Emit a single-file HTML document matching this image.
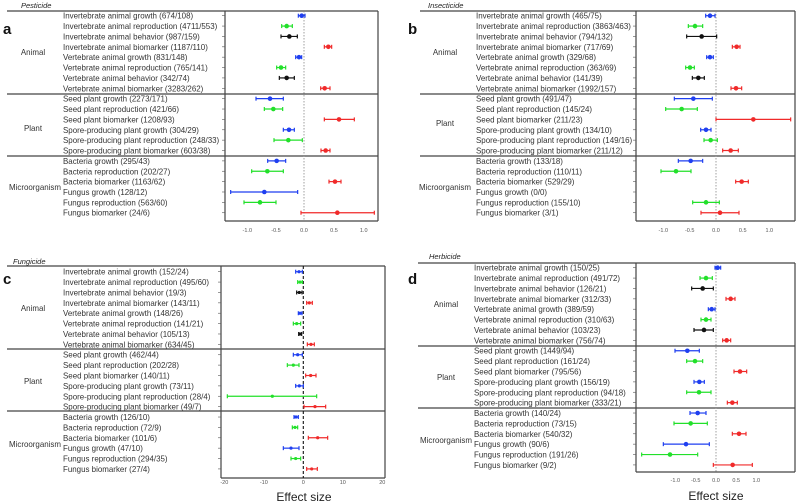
<!DOCTYPE html>
<html><head><meta charset="utf-8"><style>
html,body{margin:0;padding:0;background:#fff;}
svg{display:block;font-family:"Liberation Sans",sans-serif;}
.lab{font-size:7.95px;fill:#333;}
.grp{font-size:7.95px;fill:#333;text-anchor:middle;}
.tk{font-size:5.5px;fill:#555;text-anchor:middle;}
.ttl{font-size:7.5px;font-style:italic;fill:#222;}
.pl{font-size:15px;font-weight:bold;fill:#111;}
.es{font-size:12px;fill:#222;text-anchor:middle;}
</style></head><body>
<svg id="s" width="799" height="503" viewBox="0 0 799 503" xmlns="http://www.w3.org/2000/svg">
<rect width="799" height="503" fill="#fff"/>
<text class="ttl" x="21" y="8">Pesticide</text>
<text class="ttl" x="428" y="8">Insecticide</text>
<text class="ttl" x="13" y="264">Fungicide</text>
<text class="ttl" x="429" y="259">Herbicide</text>
<text class="pl" x="3" y="34">a</text>
<text class="pl" x="408" y="34">b</text>
<text class="pl" x="3" y="284">c</text>
<text class="pl" x="408" y="284">d</text>

<g stroke="#444" stroke-width="1.2" fill="none">
<line x1="7" y1="11" x2="378" y2="11"/><line x1="7" y1="94" x2="378" y2="94"/><line x1="7" y1="156" x2="378" y2="156"/>
<line x1="225" y1="11" x2="225" y2="221"/><line x1="378" y1="11" x2="378" y2="221"/><line x1="225" y1="221" x2="378" y2="221"/>
<line x1="420" y1="11" x2="795" y2="11"/><line x1="420" y1="94" x2="795" y2="94"/><line x1="420" y1="156" x2="795" y2="156"/>
<line x1="636" y1="11" x2="636" y2="221"/><line x1="795" y1="11" x2="795" y2="221"/><line x1="636" y1="221" x2="795" y2="221"/>
<line x1="7" y1="266" x2="385" y2="266"/><line x1="7" y1="349" x2="385" y2="349"/><line x1="7" y1="411" x2="385" y2="411"/>
<line x1="221" y1="266" x2="221" y2="478"/><line x1="385" y1="266" x2="385" y2="478"/><line x1="221" y1="478" x2="385" y2="478"/>
<line x1="418" y1="263" x2="795" y2="263"/><line x1="418" y1="346" x2="795" y2="346"/><line x1="418" y1="408" x2="795" y2="408"/>
<line x1="636" y1="263" x2="636" y2="472"/><line x1="795" y1="263" x2="795" y2="472"/><line x1="636" y1="472" x2="795" y2="472"/>
</g>
<g stroke="#888" stroke-width="0.8" stroke-dasharray="1.5,1.5">
<line x1="304" y1="11" x2="304" y2="221"/>
<line x1="716" y1="11" x2="716" y2="221"/>
<line x1="716" y1="263" x2="716" y2="472"/>
</g>
<line x1="303.3" y1="266" x2="303.3" y2="478" stroke="#111" stroke-width="1.1" stroke-dasharray="3,2"/>

<g class="tk">
<text x="247.3" y="232">-1.0</text><text x="276" y="232">-0.5</text><text x="304" y="232">0.0</text><text x="334" y="232">0.5</text><text x="363.7" y="232">1.0</text>
<text x="663.3" y="232">-1.0</text><text x="689.7" y="232">-0.5</text><text x="716" y="232">0.0</text><text x="742.7" y="232">0.5</text><text x="769.3" y="232">1.0</text>
<text x="224.3" y="484">-20</text><text x="263.8" y="484">-10</text><text x="303.3" y="484">0</text><text x="342.8" y="484">10</text><text x="382.3" y="484">20</text>
<text x="675.3" y="482">-1.0</text><text x="695.7" y="482">-0.5</text><text x="716" y="482">0.0</text><text x="736.2" y="482">0.5</text><text x="756.3" y="482">1.0</text>
</g>
<text class="es" x="304" y="501">Effect size</text>
<text class="es" x="716" y="500">Effect size</text>

<g class="grp">
<text x="33" y="55">Animal</text><text x="33" y="131">Plant</text><text x="35" y="190">Microorganism</text>
<text x="445" y="55">Animal</text><text x="445" y="126">Plant</text><text x="445" y="190">Microorganism</text>
<text x="33" y="311">Animal</text><text x="33" y="384">Plant</text><text x="35" y="447">Microorganism</text>
<text x="446" y="307">Animal</text><text x="446" y="380">Plant</text><text x="446" y="443">Microorganism</text>
</g>

<text class="lab" x="63" y="18.7">
<tspan x="63" dy="0">Invertebrate animal growth (674/108)</tspan>
<tspan x="63" dy="10.37">Invertebrate animal reproduction (4711/553)</tspan>
<tspan x="63" dy="10.37">Invertebrate animal behavior (987/159)</tspan>
<tspan x="63" dy="10.37">Invertebrate animal biomarker (1187/110)</tspan>
<tspan x="63" dy="10.37">Vertebrate animal growth (831/148)</tspan>
<tspan x="63" dy="10.37">Vertebrate animal reproduction (765/141)</tspan>
<tspan x="63" dy="10.37">Vertebrate animal behavior (342/74)</tspan>
<tspan x="63" dy="10.37">Vertebrate animal biomarker (3283/262)</tspan>
<tspan x="63" dy="10.37">Seed plant growth (2273/171)</tspan>
<tspan x="63" dy="10.37">Seed plant reproduction (421/66)</tspan>
<tspan x="63" dy="10.37">Seed plant biomarker (1208/93)</tspan>
<tspan x="63" dy="10.37">Spore-producing plant growth (304/29)</tspan>
<tspan x="63" dy="10.37">Spore-producing plant reproduction (248/33)</tspan>
<tspan x="63" dy="10.37">Spore-producing plant biomarker (603/38)</tspan>
<tspan x="63" dy="10.37">Bacteria growth (295/43)</tspan>
<tspan x="63" dy="10.37">Bacteria reproduction (202/27)</tspan>
<tspan x="63" dy="10.37">Bacteria biomarker (1163/62)</tspan>
<tspan x="63" dy="10.37">Fungus growth (128/12)</tspan>
<tspan x="63" dy="10.37">Fungus reproduction (563/60)</tspan>
<tspan x="63" dy="10.37">Fungus biomarker (24/6)</tspan>
</text>
<text class="lab" x="476" y="18.7">
<tspan x="476" dy="0">Invertebrate animal growth (465/75)</tspan>
<tspan x="476" dy="10.37">Invertebrate animal reproduction (3863/463)</tspan>
<tspan x="476" dy="10.37">Invertebrate animal behavior (794/132)</tspan>
<tspan x="476" dy="10.37">Invertebrate animal biomarker (717/69)</tspan>
<tspan x="476" dy="10.37">Vertebrate animal growth (329/68)</tspan>
<tspan x="476" dy="10.37">Vertebrate animal reproduction (363/69)</tspan>
<tspan x="476" dy="10.37">Vertebrate animal behavior (141/39)</tspan>
<tspan x="476" dy="10.37">Vertebrate animal biomarker (1992/157)</tspan>
<tspan x="476" dy="10.37">Seed plant growth (491/47)</tspan>
<tspan x="476" dy="10.37">Seed plant reproduction (145/24)</tspan>
<tspan x="476" dy="10.37">Seed plant biomarker (211/23)</tspan>
<tspan x="476" dy="10.37">Spore-producing plant growth (134/10)</tspan>
<tspan x="476" dy="10.37">Spore-producing plant reproduction (149/16)</tspan>
<tspan x="476" dy="10.37">Spore-producing plant biomarker (211/12)</tspan>
<tspan x="476" dy="10.37">Bacteria growth (133/18)</tspan>
<tspan x="476" dy="10.37">Bacteria reproduction (110/11)</tspan>
<tspan x="476" dy="10.37">Bacteria biomarker (529/29)</tspan>
<tspan x="476" dy="10.37">Fungus growth (0/0)</tspan>
<tspan x="476" dy="10.37">Fungus reproduction (155/10)</tspan>
<tspan x="476" dy="10.37">Fungus biomarker (3/1)</tspan>
</text>
<text class="lab" x="63" y="274.7">
<tspan x="63" dy="0">Invertebrate animal growth (152/24)</tspan>
<tspan x="63" dy="10.38">Invertebrate animal reproduction (495/60)</tspan>
<tspan x="63" dy="10.38">Invertebrate animal behavior (19/3)</tspan>
<tspan x="63" dy="10.38">Invertebrate animal biomarker (143/11)</tspan>
<tspan x="63" dy="10.38">Vertebrate animal growth (148/26)</tspan>
<tspan x="63" dy="10.38">Vertebrate animal reproduction (141/21)</tspan>
<tspan x="63" dy="10.38">Vertebrate animal behavior (105/13)</tspan>
<tspan x="63" dy="10.38">Vertebrate animal biomarker (634/45)</tspan>
<tspan x="63" dy="10.38">Seed plant growth (462/44)</tspan>
<tspan x="63" dy="10.38">Seed plant reproduction (202/28)</tspan>
<tspan x="63" dy="10.38">Seed plant biomarker (140/11)</tspan>
<tspan x="63" dy="10.38">Spore-producing plant growth (73/11)</tspan>
<tspan x="63" dy="10.38">Spore-producing plant reproduction (28/4)</tspan>
<tspan x="63" dy="10.38">Spore-producing plant biomarker (49/7)</tspan>
<tspan x="63" dy="10.38">Bacteria growth (126/10)</tspan>
<tspan x="63" dy="10.38">Bacteria reproduction (72/9)</tspan>
<tspan x="63" dy="10.38">Bacteria biomarker (101/6)</tspan>
<tspan x="63" dy="10.38">Fungus growth (47/10)</tspan>
<tspan x="63" dy="10.38">Fungus reproduction (294/35)</tspan>
<tspan x="63" dy="10.38">Fungus biomarker (27/4)</tspan>
</text>
<text class="lab" x="474" y="270.7">
<tspan x="474" dy="0">Invertebrate animal growth (150/25)</tspan>
<tspan x="474" dy="10.38">Invertebrate animal reproduction (491/72)</tspan>
<tspan x="474" dy="10.38">Invertebrate animal behavior (126/21)</tspan>
<tspan x="474" dy="10.38">Invertebrate animal biomarker (312/33)</tspan>
<tspan x="474" dy="10.38">Vertebrate animal growth (389/59)</tspan>
<tspan x="474" dy="10.38">Vertebrate animal reproduction (310/63)</tspan>
<tspan x="474" dy="10.38">Vertebrate animal behavior (103/23)</tspan>
<tspan x="474" dy="10.38">Vertebrate animal biomarker (756/74)</tspan>
<tspan x="474" dy="10.38">Seed plant growth (1449/94)</tspan>
<tspan x="474" dy="10.38">Seed plant reproduction (161/24)</tspan>
<tspan x="474" dy="10.38">Seed plant biomarker (795/56)</tspan>
<tspan x="474" dy="10.38">Spore-producing plant growth (156/19)</tspan>
<tspan x="474" dy="10.38">Spore-producing plant reproduction (94/18)</tspan>
<tspan x="474" dy="10.38">Spore-producing plant biomarker (333/21)</tspan>
<tspan x="474" dy="10.38">Bacteria growth (140/24)</tspan>
<tspan x="474" dy="10.38">Bacteria reproduction (73/15)</tspan>
<tspan x="474" dy="10.38">Bacteria biomarker (540/32)</tspan>
<tspan x="474" dy="10.38">Fungus growth (90/6)</tspan>
<tspan x="474" dy="10.38">Fungus reproduction (191/26)</tspan>
<tspan x="474" dy="10.38">Fungus biomarker (9/2)</tspan>
</text>
<g id="marks"></g>
</svg>
<script>
var B="#1f3ff0",G="#22e02a",K="#111",R="#f02a2a";
var cols=[B,G,K,R,B,G,K,R,B,G,R,B,G,R,B,G,R,B,G,R];
var panels=[
{ox:0,y0:15.7,sp:10.37,bx:225,r:2.3,d:[[905,895,915],[860,845,877],[868,843,892],[985,973,995],[897,887,905],[843,830,857],[860,838,883],[974,962,990],[810,768,850],[820,793,848],[1017,973,1063],[867,850,883],[865,822,907],[977,963,990],[830,803,857],[802,755,850],[1005,987,1023],[793,692,893],[780,732,828],[1012,903,1123]]},
{ox:400,y0:15.7,sp:10.37,bx:636,r:2.3,d:[[930,917,945],[885,865,908],[905,860,950],[1010,997,1020],[930,920,940],[870,857,883],[895,877,913],[1008,993,1025],[880,823,937],[845,797,892],[1060,948,1172],[918,902,933],[932,912,952],[992,968,1015],[872,835,908],[828,783,873],[1025,1007,1045],null,[918,878,958],[960,903,1017]]},
{ox:0,y0:271.7,sp:10.38,bx:221,r:1.6,d:[[897,887,907],[900,893,907],[898,890,906],[928,920,937],[900,895,906],[890,880,902],[900,896,905],[933,922,943],[893,880,907],[880,862,897],[932,917,948],[898,887,910],[817,682,950],[945,912,977],[888,882,895],[885,877,893],[953,925,983],[873,850,897],[887,873,902],[935,920,952]]},
{ox:400,y0:267.7,sp:10.38,bx:636,r:2.3,d:[[953,945,962],[918,900,937],[908,875,940],[992,978,1005],[935,925,945],[918,903,933],[912,882,940],[980,968,992],[862,825,898],[885,860,908],[1020,1002,1040],[898,882,913],[897,860,933],[997,982,1012],[893,870,918],[872,822,922],[1017,997,1038],[858,790,928],[810,725,893],[998,940,1057]]}
];
var s="";
panels.forEach(function(p){
 p.d.forEach(function(v,i){
  var y=p.y0+i*p.sp;
  s+='<line x1="'+(p.bx-3)+'" y1="'+y+'" x2="'+p.bx+'" y2="'+y+'" stroke="#555" stroke-width="0.6"/>';
  if(!v)return;
  var c=cols[i],x=p.ox+v[0]/3,l=p.ox+v[1]/3,h=p.ox+v[2]/3;
  s+='<line x1="'+l+'" y1="'+y+'" x2="'+h+'" y2="'+y+'" stroke="'+c+'" stroke-width="1.2"/>';
  s+='<line x1="'+l+'" y1="'+(y-2)+'" x2="'+l+'" y2="'+(y+2)+'" stroke="'+c+'" stroke-width="1.2"/>';
  s+='<line x1="'+h+'" y1="'+(y-2)+'" x2="'+h+'" y2="'+(y+2)+'" stroke="'+c+'" stroke-width="1.2"/>';
  s+='<circle cx="'+x+'" cy="'+y+'" r="'+p.r+'" fill="'+c+'"/>';
 });
});
document.getElementById("marks").innerHTML=s;
</script>
</body></html>
